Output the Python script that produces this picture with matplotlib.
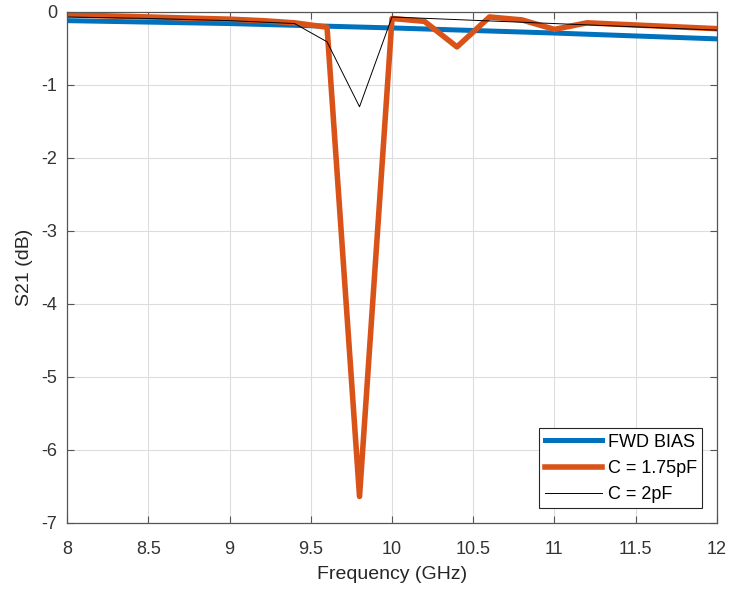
import matplotlib.pyplot as plt

plt.rcParams['font.family'] = ['Liberation Sans', 'DejaVu Sans']
plt.rcParams['axes.unicode_minus'] = False

# FWD BIAS
freq_fwd = [8.0, 9.0, 10.0, 11.0, 12.0]
s21_fwd = [-0.12, -0.16, -0.22, -0.29, -0.37]

# C = 1.75pF
freq_c175 = [8.0, 8.5, 9.0, 9.2, 9.4, 9.6, 9.8, 10.0, 10.2, 10.4, 10.6, 10.8, 11.0, 11.2, 12.0]
s21_c175 = [-0.04, -0.07, -0.10, -0.12, -0.15, -0.21, -6.64, -0.09, -0.13, -0.48, -0.07, -0.11, -0.24, -0.15, -0.23]

# C = 2pF
freq_c2 = [8.0, 8.5, 9.0, 9.2, 9.4, 9.6, 9.8, 10.0, 11.0, 12.0]
s21_c2 = [-0.07, -0.09, -0.12, -0.14, -0.16, -0.41, -1.30, -0.07, -0.16, -0.25]

fig = plt.figure(figsize=(7.3, 5.94), dpi=100)
ax = fig.add_axes([0.092, 0.12, 0.890, 0.860])

ax.plot(freq_fwd, s21_fwd, color='#0072BD', lw=3.6, label='FWD BIAS')
ax.plot(freq_c175, s21_c175, color='#D95319', lw=4.0, label='C = 1.75pF')
ax.plot(freq_c2, s21_c2, color='black', lw=0.7, label='C = 2pF')

ax.set_xlim(8, 12)
ax.set_ylim(-7, 0)
ax.set_xticks([8, 8.5, 9, 9.5, 10, 10.5, 11, 11.5, 12])
ax.set_xticklabels(['8', '8.5', '9', '9.5', '10', '10.5', '11', '11.5', '12'])
ax.set_yticks([0, -1, -2, -3, -4, -5, -6, -7])
ax.tick_params(direction='in', labelsize=13, length=5, color='#555555',
               labelcolor='#333333', top=True, right=True)
ax.tick_params(axis='x', pad=13)
ax.tick_params(axis='y', pad=7)
ax.grid(True, color='#dddddd', lw=0.8)
for s in ax.spines.values():
    s.set_color('#555555')
    s.set_linewidth(0.9)

ax.set_xlabel('Frequency (GHz)', fontsize=14, color='#262626', labelpad=6)
ax.set_ylabel('S21 (dB)', fontsize=14, color='#262626', labelpad=6)

leg = ax.legend(loc='lower right', fontsize=13, fancybox=False, framealpha=1,
                edgecolor='#262626', borderaxespad=0.8, handlelength=3.2,
                labelspacing=0.5, handletextpad=0.3, borderpad=0.3)
leg.get_frame().set_linewidth(0.8)

plt.savefig('out.png', dpi=100)
